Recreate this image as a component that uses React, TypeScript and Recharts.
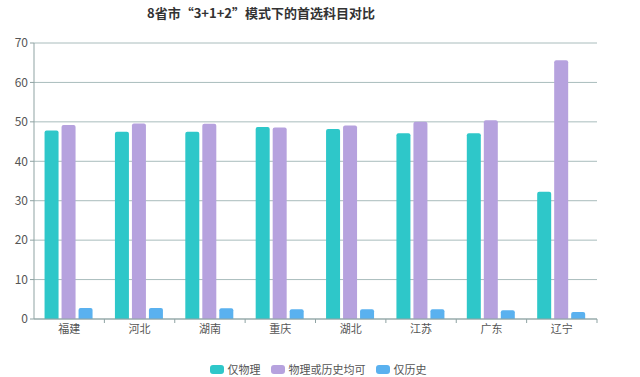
import { BarChart, Bar, XAxis, YAxis, CartesianGrid } from "recharts";

// page has an 8px body margin by default, drop it so the chart sits at 0,0
if (typeof document !== "undefined") document.body.style.margin = "0";

const provinces = ["福建", "河北", "湖南", "重庆", "湖北", "江苏", "广东", "辽宁"];
const physicsOnly = [47.8, 47.5, 47.5, 48.7, 48.2, 47.1, 47.1, 32.3];
const either = [49.2, 49.6, 49.5, 48.6, 49.1, 50.0, 50.4, 65.6];
const historyOnly = [2.8, 2.8, 2.7, 2.5, 2.5, 2.5, 2.2, 1.8];
const yTicks = [0, 10, 20, 30, 40, 50, 60, 70];

const SERIES = [
  { key: "physics", name: "仅物理", color: "#2ec7c9" },
  { key: "either", name: "物理或历史均可", color: "#b6a2de" },
  { key: "history", name: "仅历史", color: "#5ab1ef" },
];

const W = 640;
const H = 377;
const MARGIN = { top: 43, right: 43, left: 0, bottom: 0 };
const Y_AXIS_W = 34;
const X_AXIS_H = 58;
const FONT = "'Noto Sans CJK SC', 'Noto Sans', sans-serif";

const data = provinces.map((p, i) => ({
  name: p,
  physics: physicsOnly[i],
  either: either[i],
  history: historyOnly[i],
}));

const band = (W - MARGIN.left - MARGIN.right - Y_AXIS_W) / provinces.length;

// label under the category, tick mark on the band boundary (echarts style)
function XTick(props: any) {
  const { x, y, payload } = props;
  return (
    <g>
      <line x1={x + band / 2} x2={x + band / 2} y1={y - 4} y2={y} stroke="#8fa3a3" />
      <text x={x} y={y} dy="0.95em" textAnchor="middle" fill="#555" fontSize={11} fontFamily={FONT}>
        {payload.value}
      </text>
    </g>
  );
}

export default function App() {
  return (
    <div style={{ position: "relative", width: W, height: H, background: "#fff", fontFamily: FONT, overflow: "hidden" }}>
      <div
        style={{
          position: "absolute", left: 0, top: 4, width: 522, textAlign: "center",
          fontSize: 13, lineHeight: "18px", fontWeight: "bold", color: "#333",
        }}
      >
        8省市“3+1+2”模式下的首选科目对比
      </div>
      <BarChart
        width={W}
        height={H}
        data={data}
        margin={MARGIN}
        barCategoryGap="15%"
        barGap={3}
      >
        <CartesianGrid horizontal vertical={false} stroke="#a9bcbc" />
        <YAxis
          domain={[0, 70]}
          ticks={yTicks}
          width={Y_AXIS_W}
          tickSize={4}
          tickMargin={2}
          tick={{ fill: "#555", fontSize: 12, fontFamily: FONT }}
          axisLine={{ stroke: "#8fa3a3" }}
          tickLine={{ stroke: "#8fa3a3" }}
        />
        <XAxis
          dataKey="name"
          height={X_AXIS_H}
          tickSize={4}
          tickMargin={0}
          tickLine={false}
          axisLine={{ stroke: "#8fa3a3" }}
          tick={<XTick />}
          interval={0}
        />
        {SERIES.map((s) => (
          <Bar
            key={s.key}
            dataKey={s.key}
            name={s.name}
            fill={s.color}
            radius={[2, 2, 0, 0]}
            isAnimationActive={false}
          />
        ))}
      </BarChart>
      <div
        style={{
          position: "absolute", left: 0, width: 636, top: 362, height: 15, display: "flex",
          justifyContent: "center", alignItems: "center", fontSize: 11, lineHeight: "15px", color: "#555",
        }}
      >
        {SERIES.map((s) => (
          <div key={s.key} style={{ display: "flex", alignItems: "center", margin: "0 5px" }}>
            <span
              style={{
                display: "inline-block", width: 14, height: 9, borderRadius: 3,
                background: s.color, marginRight: 4,
              }}
            />
            {s.name}
          </div>
        ))}
      </div>
    </div>
  );
}
